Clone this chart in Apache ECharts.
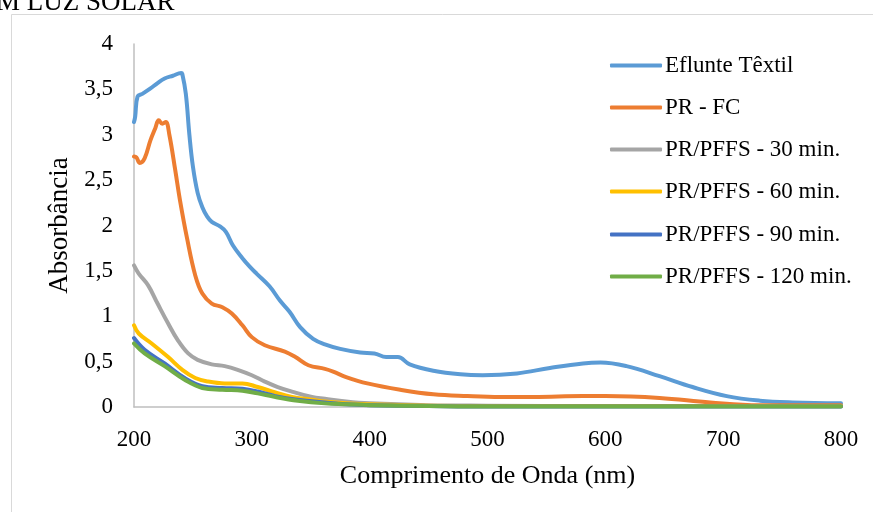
<!DOCTYPE html>
<html>
<head>
<meta charset="utf-8">
<script src="https://cdn.jsdelivr.net/npm/echarts@6/dist/echarts.min.js"></script>
<style>
  html, body { margin: 0; padding: 0; background: #ffffff; }
  #chart { width: 873px; height: 512px; }
</style>
</head>
<body>
<div id="chart"></div>
<script>
// Spectra: wavelength (nm) and absorbance for each sample
const seriesNames = ['Eflunte Têxtil', 'PR - FC', 'PR/PFFS - 30 min.', 'PR/PFFS - 60 min.', 'PR/PFFS - 90 min.', 'PR/PFFS - 120 min.'];
const seriesColors = ['#5B9BD5', '#ED7D31', '#A5A5A5', '#FFC000', '#4472C4', '#70AD47'];

const efluenteNm  = [200, 201, 203, 207, 214, 220, 226, 233, 240, 241, 244, 247, 250, 254, 258, 262, 266, 273, 278, 284, 292, 298, 304, 315, 324, 332, 341, 352, 362, 375, 392, 404, 414, 424, 434, 454, 477, 496, 525, 553, 581, 596, 618, 646, 674, 703, 731, 759, 800];
const efluenteAbs = [3.14, 3.2, 3.42, 3.45, 3.51, 3.57, 3.62, 3.65, 3.68, 3.67, 3.45, 3.0, 2.65, 2.36, 2.2, 2.1, 2.04, 1.99, 1.93, 1.78, 1.64, 1.55, 1.47, 1.33, 1.17, 1.05, 0.88, 0.75, 0.69, 0.64, 0.6, 0.59, 0.55, 0.55, 0.47, 0.40, 0.36, 0.35, 0.37, 0.43, 0.48, 0.49, 0.45, 0.34, 0.22, 0.12, 0.07, 0.05, 0.04];

const prfcNm  = [200, 202, 205, 209, 214, 218, 221, 224, 227, 230, 235, 239, 245, 252, 258, 266, 275, 283, 292, 300, 311, 328, 337, 348, 362, 369, 380, 398, 426, 454, 483, 511, 539, 581, 600, 646, 689, 731, 800];
const prfcAbs = [2.76, 2.75, 2.69, 2.74, 2.94, 3.07, 3.16, 3.12, 3.14, 3.0, 2.61, 2.28, 1.86, 1.45, 1.25, 1.14, 1.10, 1.03, 0.90, 0.77, 0.68, 0.61, 0.55, 0.46, 0.42, 0.39, 0.33, 0.26, 0.19, 0.14, 0.12, 0.11, 0.11, 0.12, 0.12, 0.10, 0.05, 0.02, 0.02];

const pffs30Nm  = [200, 204, 212, 220, 229, 237, 246, 254, 266, 277, 288, 300, 311, 322, 334, 351, 362, 380, 400, 450, 500, 600, 700, 800];
const pffs30Abs = [1.56, 1.47, 1.34, 1.14, 0.92, 0.74, 0.59, 0.52, 0.47, 0.45, 0.41, 0.35, 0.28, 0.22, 0.17, 0.11, 0.09, 0.06, 0.04, 0.02, 0.015, 0.01, 0.01, 0.01];

const pffs60Nm  = [200, 204, 215, 229, 241, 252, 263, 277, 292, 305, 320, 334, 351, 362, 380, 400, 450, 500, 600, 800];
const pffs60Abs = [0.90, 0.81, 0.70, 0.55, 0.41, 0.32, 0.28, 0.26, 0.26, 0.22, 0.16, 0.11, 0.08, 0.06, 0.04, 0.03, 0.015, 0.01, 0.01, 0.01];

const pffs90Nm  = [200, 209, 226, 243, 258, 275, 292, 305, 320, 339, 362, 380, 400, 450, 500, 800];
const pffs90Abs = [0.76, 0.63, 0.48, 0.32, 0.23, 0.21, 0.20, 0.17, 0.12, 0.08, 0.05, 0.03, 0.02, 0.01, 0.005, 0.005];

const pffs120Nm  = [200, 209, 226, 243, 258, 275, 292, 305, 320, 339, 362, 380, 400, 450, 500, 800];
const pffs120Abs = [0.70, 0.59, 0.45, 0.30, 0.21, 0.19, 0.18, 0.15, 0.11, 0.07, 0.04, 0.03, 0.02, 0.01, 0.005, 0.005];

const xTicks = [200, 300, 400, 500, 600, 700, 800];
const yTicks = [0, 0.5, 1, 1.5, 2, 2.5, 3, 3.5, 4];

const spectra = [
  [efluenteNm, efluenteAbs],
  [prfcNm, prfcAbs],
  [pffs30Nm, pffs30Abs],
  [pffs60Nm, pffs60Abs],
  [pffs90Nm, pffs90Abs],
  [pffs120Nm, pffs120Abs]
];

const FONT = '"Liberation Serif", "Times New Roman", serif';
const chart = echarts.init(document.getElementById('chart'), null, { renderer: 'canvas' });

const series = spectra.map(([nm, abs], i) => ({
  name: seriesNames[i],
  type: 'line',
  data: nm.map((x, k) => [x, abs[k]]),
  smooth: 0.4,
  showSymbol: false,
  symbol: 'none',
  lineStyle: { color: seriesColors[i], width: 4, cap: 'round', join: 'round' },
  itemStyle: { color: seriesColors[i] },
  z: 2 + i
}));

const legendRows = [68, 110, 152, 194, 237, 279];
const legends = seriesNames.map((n, i) => ({
  data: [{ name: n, icon: 'roundRect' }],
  left: 610,
  top: legendRows[i] - 14,
  itemWidth: 52,
  itemHeight: 4,
  itemGap: 0,
  padding: 0,
  selectedMode: false,
  textStyle: { fontFamily: FONT, fontSize: 23, color: '#000000', padding: [0, 0, 0, -2] }
}));

chart.setOption({
  animation: false,
  backgroundColor: '#ffffff',
  grid: { left: 134, right: 32, top: 44, bottom: 105 },
  legend: legends,
  xAxis: {
    type: 'value',
    min: xTicks[0],
    max: xTicks[xTicks.length - 1],
    interval: 100,
    name: 'Comprimento de Onda (nm)',
    nameLocation: 'middle',
    nameGap: 56,
    nameTextStyle: { fontFamily: FONT, fontSize: 26, color: '#000000' },
    axisLine: { show: true, lineStyle: { color: '#BFBFBF', width: 1.5 } },
    axisTick: { show: false },
    splitLine: { show: false },
    axisLabel: { fontFamily: FONT, fontSize: 23, color: '#000000', margin: 21 }
  },
  yAxis: {
    type: 'value',
    min: yTicks[0],
    max: yTicks[yTicks.length - 1],
    interval: 0.5,
    name: 'Absorbância',
    nameLocation: 'middle',
    nameGap: 58,
    nameRotate: 90,
    nameTextStyle: { fontFamily: FONT, fontSize: 27, color: '#000000' },
    axisLine: { show: true, lineStyle: { color: '#BFBFBF', width: 1.5 } },
    axisTick: { show: false },
    splitLine: { show: false },
    axisLabel: {
      fontFamily: FONT, fontSize: 23, color: '#000000', margin: 21,
      formatter: v => String(v).replace('.', ',')
    }
  },
  graphic: [
    {
      type: 'rect',
      shape: { x: 11.5, y: 14.5, width: 900, height: 600 },
      style: { fill: 'none', stroke: '#D9D9D9', lineWidth: 1 },
      silent: true, z: 0
    },
    {
      type: 'text',
      left: -4, top: -11,
      style: { text: 'M LUZ SOLAR', fontFamily: FONT, fontSize: 27, fill: '#000000' },
      silent: true
    }
  ],
  series
});
</script>
</body>
</html>
